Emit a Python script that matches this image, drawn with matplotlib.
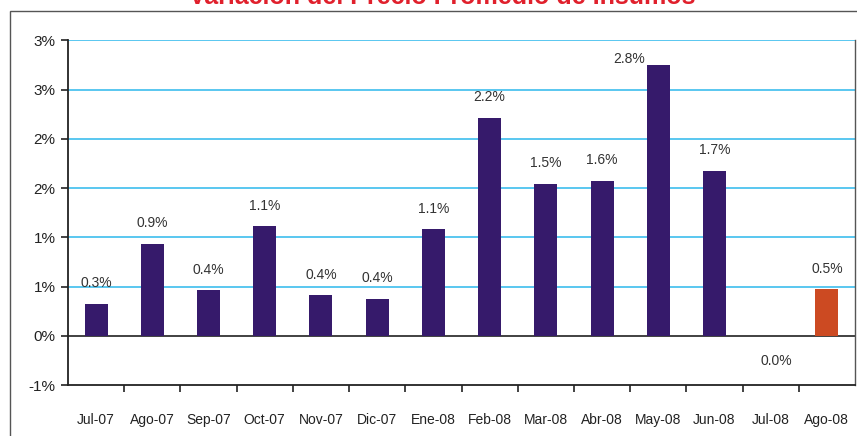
import matplotlib
matplotlib.use("Agg")
import matplotlib.pyplot as plt
from matplotlib.patches import Rectangle
from matplotlib.ticker import FixedLocator

plt.rcParams['font.family'] = ['Liberation Sans', 'DejaVu Sans']

# datos
meses = ['Jul-07', 'Ago-07', 'Sep-07', 'Oct-07', 'Nov-07', 'Dic-07', 'Ene-08',
         'Feb-08', 'Mar-08', 'Abr-08', 'May-08', 'Jun-08', 'Jul-08', 'Ago-08']
variacion = [0.32, 0.93, 0.46, 1.11, 0.41, 0.37, 1.08,
             2.21, 1.54, 1.57, 2.75, 1.67, 0.0, 0.47]
etiquetas = ['0.3%', '0.9%', '0.4%', '1.1%', '0.4%', '0.4%', '1.1%',
             '2.2%', '1.5%', '1.6%', '2.8%', '1.7%', '0.0%', '0.5%']
y_ticks = [-0.5, 0.0, 0.5, 1.0, 1.5, 2.0, 2.5, 3.0]
y_tick_labels = ['-1%', '0%', '1%', '1%', '2%', '2%', '3%', '3%']

color_bar = '#361a6b'
color_ultimo = '#cc4a22'
color_grid = '#3dbdee'

fig = plt.figure(figsize=(8.57, 4.36), dpi=100)
fig.patch.set_facecolor('white')

# marco exterior
fig.patches.append(Rectangle((10 / 857, -0.1), 1.2, 1.1 - 10.7 / 436,
                             transform=fig.transFigure, fill=False,
                             edgecolor='#555555', linewidth=1.0))

ax = fig.add_axes([68 / 857, 1 - 385 / 436, (855 - 68) / 857, (385 - 40.3) / 436])

x = list(range(len(meses)))
colores = [color_bar] * (len(meses) - 1) + [color_ultimo]
ax.bar(x, variacion, width=0.41, color=colores, zorder=3)

ax.set_xlim(-0.5, len(meses) - 0.5)
ax.set_ylim(-0.5, 3.0)

# lineas de cuadricula horizontales
for yv in y_ticks:
    if yv > 0:
        ax.axhline(yv, color=color_grid, linewidth=1.2, zorder=1)
ax.axhline(0, color='#333333', linewidth=1.3, zorder=2)

ax.set_yticks(y_ticks)
ax.set_yticklabels(y_tick_labels, fontsize=11, color='#222222')
ax.tick_params(axis='y', direction='out', length=5, width=1.2, pad=4, color='#222222')

ax.set_xticks(x)
ax.set_xticklabels(meses, fontsize=10, color='#222222')
ax.tick_params(axis='x', which='major', length=0, pad=20)
ax.xaxis.set_minor_locator(FixedLocator([i + 0.5 for i in range(len(meses) - 1)]))
ax.tick_params(axis='x', which='minor', direction='out', length=5, width=1.2, color='#222222')

ax.spines['top'].set_visible(False)
ax.spines['left'].set_color('#222222')
ax.spines['left'].set_linewidth(1.3)
ax.spines['bottom'].set_color('#222222')
ax.spines['bottom'].set_linewidth(1.3)
ax.spines['right'].set_color('#555555')
ax.spines['right'].set_linewidth(1.0)

# etiquetas de datos
for i, (v, txt) in enumerate(zip(variacion, etiquetas)):
    if meses[i] == 'May-08':
        ax.annotate(txt, (i - 0.205, v), xytext=(-1, 4), textcoords='offset points',
                    ha='right', va='center', fontsize=10, color='#333333')
    elif v == 0:
        ax.annotate(txt, (i, v), xytext=(4, -18), textcoords='offset points',
                    ha='center', va='center', fontsize=10, color='#333333')
    else:
        ax.annotate(txt, (i, v), xytext=(0, 15), textcoords='offset points',
                    ha='center', va='center', fontsize=10, color='#333333')

# titulo (cortado en la parte superior, como en el original)
fig.text(442 / 857, 1 - 4.5 / 436, 'Variación del Precio Promedio de Insumos',
         ha='center', va='baseline', fontsize=18, fontweight='bold', color='#e0202c')

fig.savefig('out.png', dpi=100)
